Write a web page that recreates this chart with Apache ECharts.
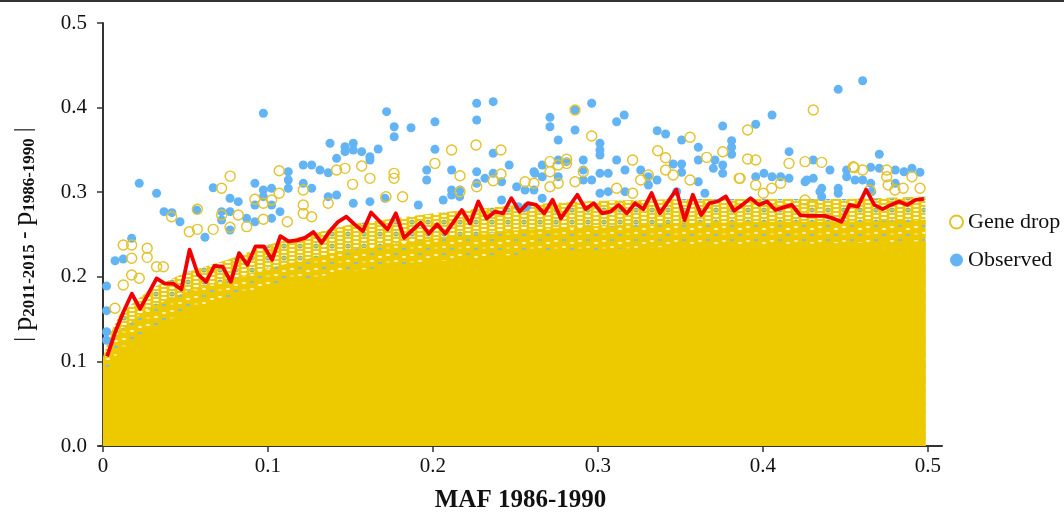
<!DOCTYPE html>
<html><head><meta charset="utf-8">
<script src="https://cdn.jsdelivr.net/npm/echarts@6/dist/echarts.min.js"></script>
<style>html,body{margin:0;padding:0;background:#fff}#c{width:1064px;height:512px}</style>
</head><body><div id="c"></div>
<script>
// ---- data ----
const xTicks = [0, 0.1, 0.2, 0.3, 0.4, 0.5];
const yTicks = [0, 0.1, 0.2, 0.3, 0.4, 0.5];

// red line: mean per MAF bin
const redX = [0.0025,0.0075,0.0125,0.0175,0.0225,0.0275,0.0325,0.0375,0.0425,0.0475,
0.0525,0.0575,0.0625,0.0675,0.0725,0.0775,0.0825,0.0875,0.0925,0.0975,
0.1025,0.1075,0.1125,0.1175,0.1225,0.1275,0.1325,0.1375,0.1425,0.1475,
0.1525,0.1575,0.1625,0.1675,0.1725,0.1775,0.1825,0.1875,0.1925,0.1975,
0.2025,0.2075,0.2125,0.2175,0.2225,0.2275,0.2325,0.2375,0.2425,0.2475,
0.2525,0.2575,0.2625,0.2675,0.2725,0.2775,0.2825,0.2875,0.2925,0.2975,
0.3025,0.3075,0.3125,0.3175,0.3225,0.3275,0.3325,0.3375,0.3425,0.3475,
0.3525,0.3575,0.3625,0.3675,0.3725,0.3775,0.3825,0.3875,0.3925,0.3975,
0.4025,0.4075,0.4125,0.4175,0.4225,0.4275,0.4325,0.4375,0.4425,0.4475,
0.4525,0.4575,0.4625,0.4675,0.4725,0.4775,0.4825,0.4875,0.4925,0.4975];
const redY = [0.106,0.135,0.159,0.180,0.162,0.180,0.198,0.192,0.192,0.185,
0.232,0.203,0.194,0.213,0.212,0.194,0.228,0.214,0.236,0.236,
0.220,0.248,0.242,0.243,0.246,0.253,0.240,0.254,0.265,0.271,
0.262,0.254,0.276,0.266,0.256,0.275,0.246,0.255,0.264,0.251,
0.262,0.251,0.265,0.279,0.263,0.289,0.269,0.277,0.275,0.293,
0.277,0.287,0.285,0.275,0.291,0.269,0.283,0.297,0.280,0.287,
0.275,0.277,0.285,0.275,0.287,0.280,0.299,0.275,0.289,0.303,
0.267,0.297,0.273,0.287,0.289,0.295,0.278,0.285,0.293,0.285,
0.289,0.279,0.282,0.285,0.273,0.272,0.272,0.272,0.269,0.265,
0.285,0.283,0.303,0.285,0.280,0.285,0.289,0.285,0.291,0.292];

// envelopes of the dense gene-drop cloud
const envX      = [0, 0.005, 0.01, 0.02, 0.03, 0.05, 0.075, 0.1, 0.125, 0.15, 0.2, 0.25, 0.3, 0.35, 0.4, 0.45, 0.4985];
const solidTop  = [0.080,0.100,0.112,0.128,0.140,0.158,0.175,0.188,0.198,0.207,0.218,0.226,0.232,0.236,0.238,0.240,0.242];
const denseTop  = [0.095,0.120,0.135,0.152,0.165,0.182,0.196,0.210,0.222,0.232,0.245,0.255,0.260,0.263,0.265,0.265,0.267];
const looseTop  = [0.105,0.135,0.155,0.172,0.187,0.205,0.220,0.238,0.250,0.262,0.275,0.285,0.290,0.292,0.292,0.292,0.295];

// gene-drop points standing out of the cloud
const geneDrop = [
[0.0174,0.2376],[0.0174,0.2219],[0.0268,0.2337],[0.0268,0.223],[0.0123,0.1903],[0.0174,0.2021],[0.022,0.1982],[0.0073,0.1628],[0.0325,0.2119],[0.0366,0.2119],[0.0416,0.271],[0.0523,0.2533],[0.0572,0.2561],[0.0572,0.2798],[0.0719,0.3046],[0.0668,0.2561],[0.077,0.2585],[0.0771,0.319],[0.082,0.273],[0.0871,0.2593],[0.0921,0.2916],[0.0972,0.2869],[0.0972,0.268],[0.1068,0.3254],[0.1068,0.2987],[0.1117,0.2651],[0.1022,0.2908],[0.1214,0.3026],[0.1214,0.2849],[0.1214,0.275],[0.1265,0.271],[0.1365,0.2869],[0.1416,0.3262],[0.0123,0.2376],[0.0719,0.273],
[0.1467,0.3282],[0.1568,0.331],[0.1618,0.3164],[0.1764,0.3223],[0.1764,0.3164],[0.1513,0.3093],[0.2012,0.3341],[0.2113,0.3499],[0.2164,0.3195],[0.2261,0.3558],[0.2412,0.3499],[0.2412,0.3215],[0.2365,0.3136],[0.2265,0.3065],[0.2861,0.3972],[0.2962,0.3664],[0.2709,0.3361],[0.2759,0.3322],[0.281,0.3389],[0.281,0.3341],[0.2911,0.3242],[0.2709,0.3242],[0.2709,0.3065],[0.2759,0.3105],[0.2861,0.3124],[0.3113,0.3046],[0.2558,0.3124],[0.2612,0.3105],[0.1816,0.2947],[0.1715,0.2947],[0.2164,0.3006],
[0.4305,0.3972],[0.3907,0.3735],[0.3558,0.3649],[0.3362,0.349],[0.341,0.3408],[0.321,0.338],[0.3659,0.3412],[0.3756,0.3479],[0.3907,0.3392],[0.3956,0.338],[0.4158,0.3341],[0.4255,0.3361],[0.4356,0.3353],[0.341,0.3262],[0.3456,0.3203],[0.3856,0.3164],[0.3956,0.3085],[0.4553,0.329],[0.4604,0.3262],[0.475,0.3262],[0.475,0.3183],[0.4903,0.3183],[0.4952,0.3046],[0.4255,0.2908],[0.4305,0.2849],[0.3558,0.3144],[0.3305,0.3203],[0.3259,0.3144],[0.321,0.2987],[0.4053,0.3046],[0.4107,0.3105],[0.485,0.3046],[0.48,0.3026],[0.4547,0.3301],[0.3861,0.3164],[0.4002,0.2987],[0.4648,0.3026],[0.4759,0.3085]
];

// observed points
const observed = [
[0.0022,0.189],[0.0022,0.160],[0.0022,0.135],[0.0022,0.125],[0.0073,0.219],[0.0123,0.221],[0.0174,0.2455],[0.022,0.3105],[0.0325,0.2987],[0.037,0.277],[0.0418,0.2758],[0.0467,0.2651],[0.0568,0.279],[0.0618,0.2467],[0.0668,0.3053],[0.0719,0.277],[0.0719,0.2671],[0.077,0.2928],[0.077,0.277],[0.077,0.2553],[0.082,0.2888],[0.0871,0.2691],[0.0921,0.3105],[0.0921,0.2849],[0.0921,0.2651],[0.0972,0.3933],[0.0972,0.3026],[0.0972,0.2947],[0.1022,0.3046],[0.1022,0.2849],[0.1022,0.2691],[0.1073,0.277],[0.1123,0.3242],[0.1123,0.3144],[0.1123,0.3046],[0.1214,0.3322],[0.1265,0.3322],[0.1315,0.3262],[0.1365,0.323],[0.1416,0.340],[0.1214,0.3105],[0.1265,0.3046],[0.1365,0.2947],[0.1416,0.2967],[0.1376,0.3578],[0.1467,0.3538],[0.1467,0.3479],[0.1517,0.3578],[0.1517,0.3499],[0.1568,0.3479],[0.1618,0.342],[0.1618,0.338],[0.1668,0.351],[0.1719,0.3952],[0.1765,0.3774],[0.1765,0.3656],[0.1867,0.3762],[0.2012,0.3833],[0.2012,0.3507],[0.1962,0.3262],[0.1962,0.3144],[0.2113,0.3262],[0.2113,0.3026],[0.2062,0.2908],[0.2164,0.3026],[0.2265,0.4051],[0.2365,0.407],[0.2265,0.3853],[0.2265,0.3242],[0.2365,0.3223],[0.2365,0.346],[0.2315,0.3164],[0.2462,0.3322],[0.2416,0.2908],[0.2517,0.2829],[0.2568,0.2829],[0.2612,0.3242],[0.2612,0.3026],[0.2662,0.3322],[0.2662,0.3183],[0.2662,0.2928],[0.2709,0.3885],[0.2709,0.3774],[0.2759,0.3617],[0.2759,0.338],[0.2759,0.3183],[0.281,0.3361],[0.2861,0.3972],[0.2861,0.3735],[0.2911,0.338],[0.2911,0.3144],[0.2962,0.4051],[0.3012,0.3578],[0.3012,0.3499],[0.3012,0.344],[0.3012,0.3223],[0.3062,0.3223],[0.3113,0.3833],[0.3159,0.3913],[0.3113,0.338],[0.3164,0.3262],[0.3164,0.3006],[0.3062,0.3006],[0.2962,0.3144],
[0.3359,0.3727],[0.341,0.3688],[0.3507,0.3617],[0.3608,0.3531],[0.3608,0.338],[0.3709,0.338],[0.3756,0.3783],[0.381,0.3609],[0.381,0.3531],[0.381,0.3448],[0.3756,0.3322],[0.3756,0.3223],[0.3956,0.3803],[0.4055,0.3913],[0.4158,0.3479],[0.4305,0.338],[0.4456,0.4216],[0.4604,0.4318],[0.4705,0.3448],[0.4406,0.3262],[0.4507,0.3262],[0.4507,0.3183],[0.4653,0.3294],[0.4705,0.3282],[0.4802,0.3262],[0.4855,0.3242],[0.4903,0.3282],[0.4952,0.3235],[0.3259,0.3262],[0.3456,0.3333],[0.3507,0.3333],[0.3507,0.3235],[0.3608,0.3124],[0.3956,0.3183],[0.4006,0.3223],[0.4055,0.3183],[0.4107,0.3183],[0.4158,0.3164],[0.4255,0.3124],[0.4305,0.3164],[0.4356,0.3046],[0.4356,0.2947],[0.4456,0.3046],[0.4456,0.2987],[0.4604,0.3144],[0.4653,0.3105],[0.4802,0.3105],[0.3306,0.3085],[0.3358,0.3144],
[0.1517,0.2869],[0.1618,0.2888],[0.1709,0.2928],[0.1911,0.2849],[0.2113,0.2967],[0.2162,0.2947],[0.2265,0.3105],[0.2416,0.3124],[0.2507,0.3065],[0.2558,0.3026],[0.2618,0.3223],[0.2911,0.3262],[0.3012,0.2987],[0.3305,0.3183],[0.3699,0.3282],[0.3477,0.3006],[0.3648,0.2987],[0.4265,0.3144],[0.4345,0.3006],[0.4558,0.3144],[0.4659,0.3006]
];

// ---- styles ----
const YEL = '#EDC900', RING = '#E3C22A', BLUE = '#62B4F4', RED = '#F20000';
const FONT = "'Liberation Serif','Times New Roman',serif";

function pairs(xs, ys){ return xs.map((x,i)=>[x, ys[i]]); }

function densePattern(){
  const c = document.createElement('canvas'); c.width = 24; c.height = 14;
  const g = c.getContext('2d');
  g.fillStyle = YEL; g.fillRect(0,0,24,14);
  const dash = (x,y,col,ry)=>{ g.fillStyle = col; g.beginPath(); g.ellipse(x,y,2.3,ry,0,0,Math.PI*2); g.fill(); };
  dash(4,3,'#ffffff',0.7); dash(12,9,'#ffffff',0.7); dash(20,5,'#ffffff',0.7);
  dash(12,2,'#7fbbe4',0.9); dash(20,11,'#7fbbe4',0.9); dash(4,10,'#f7e27a',0.7);
  return c;
}
function loosePattern(){
  const c = document.createElement('canvas'); c.width = 16; c.height = 12;
  const g = c.getContext('2d');
  g.fillStyle = '#ffffff'; g.fillRect(0,0,16,12);
  g.fillStyle = BLUE;
  g.beginPath(); g.arc(12,6,2.6,0,Math.PI*2); g.fill();
  g.strokeStyle = YEL; g.lineWidth = 1.5;
  const centers = [];
  [[4,0],[12,2],[-4,2],[20,0]].forEach(([x,o])=>{ for(let y=-8+o;y<=20;y+=4) centers.push([x,y]); });
  centers.forEach(([x,y])=>{ g.beginPath(); g.arc(x,y,4.2,0,Math.PI*2); g.stroke(); });
  return c;
}

const chart = echarts.init(document.getElementById('c'), null, {renderer:'canvas'});
const areaSeries = (name, data, color) => ({
  name, type:'line', data, showSymbol:false, silent:true, smooth:false,
  lineStyle:{width:0}, areaStyle:{color, opacity:1}, z:1
});

chart.setOption({
  animation:false,
  backgroundColor:'#fff',
  graphic:[{type:'rect', left:0, top:0, shape:{x:0,y:0,width:1064,height:2}, style:{fill:'#333'}}],
  grid:{left:99, right:122, top:23, bottom:66, outerBoundsMode:'none', containLabel:false},
  legend:{
    orient:'vertical', left:944, top:206, itemGap:16, itemWidth:13, itemHeight:13,
    textStyle:{fontFamily:FONT, fontSize:22, color:'#111'},
    data:[{name:'Gene drop', icon:'circle'},{name:'Observed', icon:'circle'}]
  },
  xAxis:{
    type:'value', min:-0.0024, max:0.5085,
    name:'MAF 1986-1990', nameLocation:'middle', nameGap:42,
    nameTextStyle:{fontFamily:FONT, fontSize:25, fontWeight:'bold', color:'#111'},
    axisLine:{show:true, onZero:false, lineStyle:{color:'#333', width:2}},
    axisTick:{show:true, length:6, lineStyle:{color:'#333', width:1.5}, customValues:xTicks},
    axisLabel:{fontFamily:FONT, fontSize:21, color:'#111', margin:10, customValues:xTicks,
      formatter:v=> v===0 ? '0' : String(v)},
    splitLine:{show:false}
  },
  yAxis:{
    type:'value', min:0, max:0.5, interval:0.1,
    name:'{b|| }{p|p}{s|2011-2015}{m| - }{p|p}{s|1986-1990}{b| |}',
    nameLocation:'middle', nameGap:61, nameRotate:90,
    nameTextStyle:{color:'#111', fontFamily:FONT, rich:{
      b:{fontSize:24, fontFamily:FONT, color:'#111'},
      p:{fontSize:28, fontFamily:FONT, color:'#111'},
      s:{fontSize:17, fontFamily:FONT, fontWeight:'bold', color:'#111', verticalAlign:'bottom'},
      m:{fontSize:22, fontFamily:FONT, fontWeight:'bold', color:'#111'}
    }},
    axisLine:{show:true, lineStyle:{color:'#333', width:2}},
    axisTick:{show:true, length:6, lineStyle:{color:'#333', width:1.5}},
    axisLabel:{fontFamily:FONT, fontSize:21, color:'#111', margin:12, formatter:v=>v.toFixed(1)},
    splitLine:{show:false}
  },
  series:[
    areaSeries('loose', pairs(envX, looseTop), {image:loosePattern(), repeat:'repeat'}),
    areaSeries('dense', pairs(envX, denseTop), {image:densePattern(), repeat:'repeat'}),
    areaSeries('solid', pairs(envX, solidTop), YEL),
    {name:'Observed', type:'scatter', data:observed, symbol:'circle', symbolSize:9,
      itemStyle:{color:BLUE, opacity:1}, z:3},
    {name:'Gene drop', type:'scatter', data:geneDrop, symbol:'circle', symbolSize:10,
      itemStyle:{color:'rgba(255,255,255,0)', borderColor:RING, borderWidth:1.4, opacity:1}, z:4},
    {name:'mean', type:'line', data:pairs(redX, redY), showSymbol:false, silent:true,
      lineStyle:{color:RED, width:3.8, join:'round'}, z:5}
  ]
});
</script></body></html>
